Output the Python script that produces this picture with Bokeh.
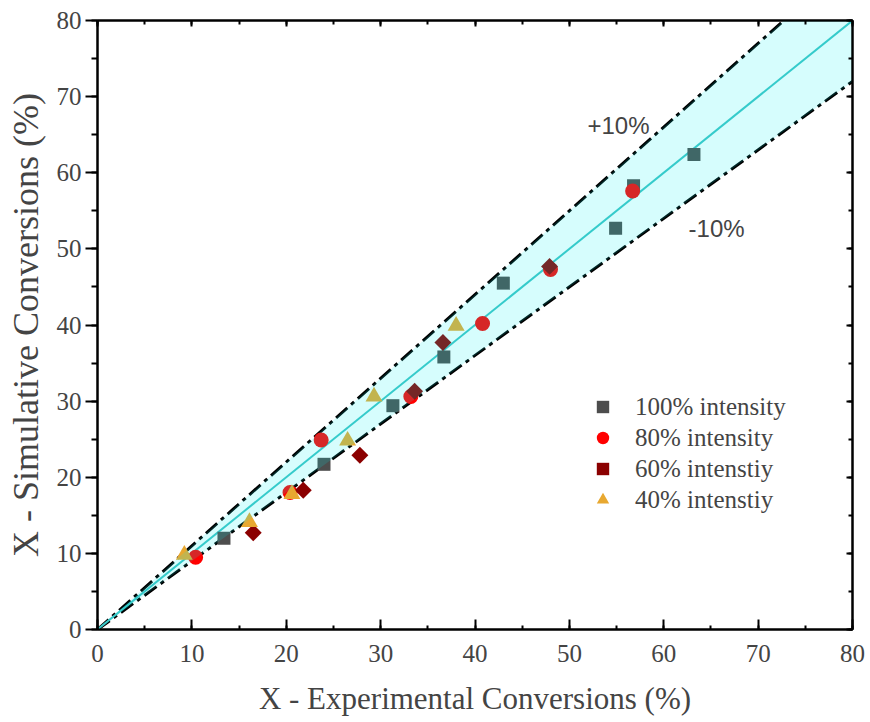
import numpy as np
from bokeh.plotting import figure
from bokeh.models import (Range1d, LinearAxis, SingleIntervalTicker, Legend,
                          LegendItem, Label)
from bokeh.embed import file_html
from bokeh.resources import INLINE

# ---------------- data ----------------
axis_min, axis_max = 0, 80
band = 0.10  # +/-10 % band

x100 = [13.4, 24.0, 31.3, 36.7, 43.0, 54.9, 56.8, 63.2]
y100 = [12.0, 21.7, 29.4, 35.8, 45.5, 52.7, 58.3, 62.4]

x80 = [10.4, 20.4, 23.7, 33.2, 40.8, 48.0, 56.7]
y80 = [9.5, 18.0, 24.9, 30.6, 40.2, 47.3, 57.6]

x60 = [16.5, 21.8, 27.8, 33.6, 36.6, 47.9]
y60 = [12.7, 18.3, 22.9, 31.3, 37.7, 47.7]

x40 = [9.2, 16.1, 20.6, 26.5, 29.3, 38.0]
y40 = [9.8, 14.1, 17.8, 24.8, 30.6, 39.9]

labels = ["100% intensity", "80% intensity", "60% intenstiy", "40% intenstiy"]

SERIF = "Liberation Serif"
SANS = "Liberation Sans"

p = figure(width=866, height=718,
           x_range=Range1d(axis_min, axis_max), y_range=Range1d(axis_min, axis_max),
           output_backend="svg", toolbar_location=None,
           min_border_left=97, min_border_right=14,
           min_border_top=20, min_border_bottom=88)
p.xgrid.visible = False
p.ygrid.visible = False
p.outline_line_color = "black"
p.outline_line_width = 2

# reference lines
x_ref = np.linspace(axis_min, axis_max, 2)
p.line(x_ref, x_ref * (1 + band), line_color="black", line_width=3, line_dash="15 5 4 5")
p.line(x_ref, x_ref * (1 - band), line_color="black", line_width=3, line_dash="15 5 4 5")
p.line(x_ref, x_ref, line_color="#40C4C4", line_width=2)

# markers
r100 = p.scatter(x100, y100, marker="square", size=13, fill_color="#4d4d4d", line_color=None)
r80 = p.scatter(x80, y80, marker="circle", size=15, fill_color="#ff0000", line_color=None)
r60 = p.scatter(x60, y60, marker="square", angle=np.pi / 4, size=12,
                fill_color="#8B0000", line_color=None)
r40 = p.scatter(x40, y40, marker="triangle", size=17, fill_color="#E8A830", line_color=None)

# band fill (over the markers, translucent)
p.varea(x=x_ref, y1=x_ref * (1 - band), y2=x_ref * (1 + band),
        fill_color="#00F0F0", fill_alpha=0.16)

# axes
def style(ax, label, tin, tout, min_in, min_out, label_size="30px", show_labels=True):
    ax.ticker = SingleIntervalTicker(interval=10, num_minor_ticks=2)
    ax.axis_line_width = 2
    ax.major_tick_line_width = 2
    ax.minor_tick_line_width = 2
    ax.major_tick_in = tin
    ax.major_tick_out = tout
    ax.minor_tick_in = min_in
    ax.minor_tick_out = min_out
    ax.major_label_text_font = SERIF
    if show_labels:
        ax.major_label_text_font_size = "25px"
        ax.axis_label = label
        ax.axis_label_text_font = SERIF
        ax.axis_label_text_font_size = label_size
        ax.axis_label_text_font_style = "normal"
    else:
        ax.major_label_text_font_size = "1px"
        ax.major_label_text_color = None
        ax.major_label_standoff = 0

style(p.xaxis[0], "X - Experimental Conversions (%)", 10, 0, 4, 0, label_size="31px")
p.xaxis[0].major_label_standoff = 15
p.xaxis[0].axis_label_standoff = 16
style(p.yaxis[0], "X - Simulative Conversions (%)", 0, 12, 0, 6, label_size="36px")
p.yaxis[0].major_label_standoff = 4
p.yaxis[0].axis_label_standoff = 8

top = LinearAxis()
style(top, None, 6, 0, 4, 0, show_labels=False)
p.add_layout(top, "above")
right = LinearAxis()
style(right, None, 6, 0, 4, 0, show_labels=False)
p.add_layout(right, "right")

# annotations
p.add_layout(Label(x=55.2, y=66.2, text="+10%", text_align="center", text_baseline="middle",
                   text_font=SANS, text_font_size="24px"))
p.add_layout(Label(x=65.6, y=52.7, text="-10%", text_align="center", text_baseline="middle",
                   text_font=SANS, text_font_size="24px"))

legend = Legend(items=[LegendItem(label=labels[0], renderers=[r100]),
                       LegendItem(label=labels[1], renderers=[r80]),
                       LegendItem(label=labels[2], renderers=[r60]),
                       LegendItem(label=labels[3], renderers=[r40])],
                location=(488, 114), border_line_color=None, background_fill_alpha=0,
                padding=0, margin=0, spacing=0, glyph_width=35, glyph_height=31,
                label_height=31, label_standoff=15,
                label_text_font=SERIF, label_text_font_size="25px")
p.add_layout(legend)

open("out.html", "w").write(file_html(p, INLINE))
